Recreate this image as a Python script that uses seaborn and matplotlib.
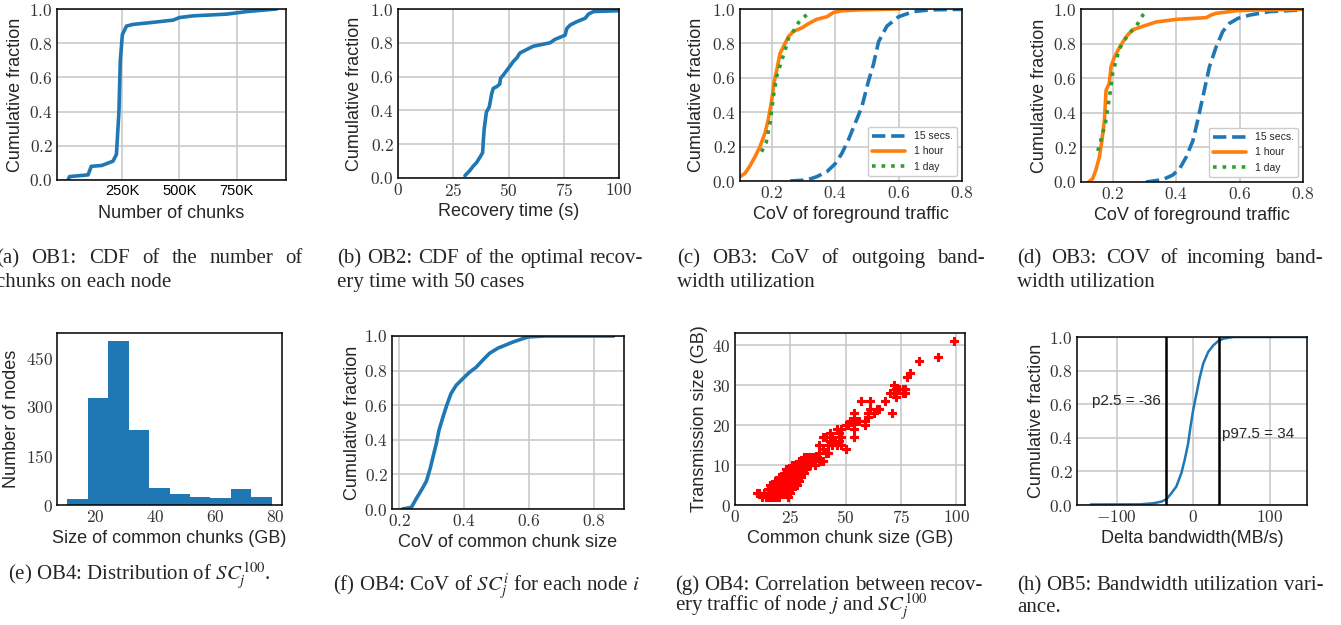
import matplotlib
matplotlib.use('Agg')
import matplotlib.pyplot as plt
import seaborn as sns
from matplotlib.ticker import FuncFormatter

# (a) CDF of the number of chunks on each node
a_x = [12e3, 19e3, 60e3, 100e3, 114e3, 160e3, 209e3, 224e3, 235e3, 241e3,
       250e3, 268e3, 297e3, 370e3, 472e3, 500e3, 560e3, 706e3, 794e3, 925e3]
a_y = [0.0, 0.02, 0.025, 0.03, 0.08, 0.085, 0.11, 0.15, 0.4, 0.7,
       0.85, 0.9, 0.91, 0.92, 0.935, 0.95, 0.96, 0.97, 0.985, 1.0]

# (b) CDF of the optimal recovery time
b_x = [30.3, 32.5, 34, 35.5, 37.4, 38.3, 38.6, 39, 40, 41.3, 42.4, 43.1, 44.6, 46, 46.4, 47.7,
       50, 52.2, 53.7, 55.2, 58.2, 61.3, 68.8, 71, 75.6, 76.4, 77.9, 80.9, 84.7, 86.2, 88.5, 100]
b_y = [0.014, 0.044, 0.07, 0.09, 0.13, 0.15, 0.22, 0.29, 0.39, 0.42, 0.50, 0.53, 0.54, 0.555, 0.59, 0.61,
       0.65, 0.69, 0.71, 0.74, 0.76, 0.78, 0.80, 0.82, 0.845, 0.885, 0.905, 0.925, 0.945, 0.97, 0.985, 0.99]

# (c) CoV of outgoing bandwidth
c_15s_x = [0.258, 0.311, 0.342, 0.374, 0.4, 0.421, 0.442, 0.463, 0.484, 0.505, 0.521, 0.537, 0.563, 0.6, 0.647, 0.7, 0.8]
c_15s_y = [0.0, 0.006, 0.025, 0.054, 0.1, 0.16, 0.24, 0.335, 0.43, 0.58, 0.68, 0.81, 0.9, 0.955, 0.985, 0.995, 0.998]
c_1h_x = [0.1, 0.116, 0.132, 0.147, 0.163, 0.179, 0.189, 0.2, 0.207, 0.216, 0.226,
          0.242, 0.253, 0.268, 0.295, 0.316, 0.342, 0.374, 0.395, 0.421, 0.479, 0.605]
c_1h_y = [0.025, 0.045, 0.09, 0.14, 0.2, 0.28, 0.355, 0.47, 0.57, 0.645, 0.74,
          0.80, 0.84, 0.87, 0.89, 0.915, 0.94, 0.955, 0.98, 0.99, 0.995, 1.0]
c_1d_x = [0.168, 0.182, 0.195, 0.205, 0.216, 0.228, 0.242, 0.253, 0.268, 0.284, 0.3, 0.316]
c_1d_y = [0.17, 0.22, 0.34, 0.49, 0.61, 0.68, 0.76, 0.83, 0.87, 0.92, 0.95, 0.975]

# (d) CoV of incoming bandwidth
d_15s_x = [0.305, 0.358, 0.389, 0.411, 0.432, 0.453, 0.468, 0.484, 0.505, 0.526, 0.547, 0.568, 0.595, 0.632, 0.695, 0.8]
d_15s_y = [0.0, 0.014, 0.04, 0.077, 0.145, 0.24, 0.357, 0.49, 0.666, 0.78, 0.87, 0.917, 0.946, 0.965, 0.985, 0.995]
d_1h_x = [0.124, 0.137, 0.147, 0.158, 0.166, 0.174, 0.179, 0.189, 0.195, 0.205, 0.216, 0.232,
          0.247, 0.263, 0.295, 0.337, 0.4, 0.495, 0.51, 0.526, 0.59, 0.653, 0.8]
d_1h_y = [0.0, 0.02, 0.07, 0.145, 0.24, 0.36, 0.53, 0.57, 0.67, 0.72, 0.76, 0.81,
          0.85, 0.88, 0.9, 0.925, 0.94, 0.95, 0.965, 0.975, 0.99, 0.994, 0.998]
d_1d_x = [0.153, 0.161, 0.168, 0.177, 0.184, 0.192, 0.2, 0.208, 0.221, 0.237, 0.253, 0.274, 0.295, 0.3]
d_1d_y = [0.18, 0.23, 0.28, 0.34, 0.42, 0.52, 0.63, 0.685, 0.77, 0.82, 0.86, 0.9, 0.965, 0.975]

# (e) histogram of common chunk size
e_edges = [10.6, 17.43, 24.26, 31.09, 37.92, 44.75, 51.58, 58.41, 65.24, 72.07, 78.9]
e_counts = [18, 328, 500, 228, 52, 35, 25, 22, 49, 25]

# (f) CoV of common chunk size
f_x = [0.21, 0.238, 0.253, 0.269, 0.284, 0.296, 0.307, 0.315, 0.323, 0.335, 0.347, 0.36, 0.376,
       0.397, 0.417, 0.438, 0.458, 0.479, 0.505, 0.525, 0.551, 0.582, 0.6, 0.653, 0.862]
f_y = [0.0, 0.01, 0.06, 0.11, 0.16, 0.235, 0.32, 0.38, 0.455, 0.53, 0.6, 0.667, 0.715,
       0.754, 0.79, 0.82, 0.86, 0.9, 0.93, 0.945, 0.965, 0.985, 0.995, 1.0, 1.0]

# (g) common chunk size vs transmission size
g_points = [
    (10, 3), (11, 3), (12, 2), (13, 3), (14, 2), (15, 2), (15, 3), (15, 4), (16, 2), (16, 3), (16, 4), (16, 5),
    (17, 2), (17, 3), (17, 4), (17, 5), (18, 2), (18, 3), (18, 4), (18, 5), (18, 6), (19, 2), (19, 3), (19, 4),
    (19, 5), (19, 6), (20, 2), (20, 3), (20, 4), (20, 5), (20, 6), (20, 7), (21, 3), (21, 4), (21, 5), (21, 6),
    (21, 7), (22, 3), (22, 4), (22, 5), (22, 6), (22, 7), (22, 8), (23, 3), (23, 4), (23, 5), (23, 6), (23, 7),
    (23, 8), (23, 9), (24, 2), (24, 4), (24, 5), (24, 6), (24, 7), (24, 8), (24, 9), (25, 3), (25, 5), (25, 6),
    (25, 7), (25, 8), (25, 9), (26, 4), (26, 5), (26, 6), (26, 7), (26, 8), (26, 9), (26, 10), (27, 5), (27, 6),
    (27, 7), (27, 8), (27, 9), (27, 10), (28, 5), (28, 6), (28, 7), (28, 8), (28, 9), (28, 10), (29, 6), (29, 7),
    (29, 8), (29, 9), (29, 10), (29, 11), (30, 7), (30, 8), (30, 9), (30, 10), (30, 11), (31, 8), (31, 9),
    (31, 10), (31, 11), (31, 12), (32, 9), (32, 10), (32, 11), (32, 12), (33, 10), (33, 11), (33, 12), (34, 10),
    (34, 11), (34, 12), (35, 11), (35, 12), (36, 10), (36, 12), (37, 12), (38, 11), (38, 13), (38, 15), (39, 11),
    (40, 11), (40, 14), (40, 17), (41, 13), (41, 17), (42, 13), (42, 15), (43, 16), (43, 18), (44, 17), (44, 15),
    (45, 16), (46, 15), (46, 19), (47, 16), (47, 18), (48, 15), (48, 19), (48, 17), (50, 14), (50, 20), (51, 20),
    (52, 21), (53, 21), (54, 17), (54, 19), (54, 21), (54, 23), (55, 21), (56, 21), (57, 26), (59, 20), (59, 21),
    (60, 22), (60, 23), (61, 24), (61, 26), (63, 23), (64, 24), (65, 24), (68, 26), (70, 28), (71, 23), (72, 30),
    (72, 28), (73, 29), (73, 27), (74, 29), (76, 29), (76, 28), (77, 28), (77, 29), (78, 32), (79, 33), (83, 36),
    (92, 37), (99, 41),
]
g_x = [p[0] for p in g_points]
g_y = [p[1] for p in g_points]

# (h) delta bandwidth CDF with percentiles
h_x = [-134, -70, -52.6, -41.7, -35, -28.5, -22, -15.4, -11, -6.6, -3.5, 0,
       4.4, 8.8, 13.2, 19.7, 26.3, 32.9, 39.5, 52.6, 147]
h_y = [0.003, 0.004, 0.01, 0.02, 0.034, 0.07, 0.11, 0.19, 0.27, 0.366, 0.465, 0.564,
       0.663, 0.762, 0.842, 0.911, 0.95, 0.976, 0.99, 1.0, 1.0]
h_pct = [-36, 34]
h_pct_labels = ['p2.5 = -36', 'p97.5 = 34']

BLUE, ORANGE, GREEN = '#1f77b4', '#ff7f0e', '#2ca02c'

sns.set_theme(style='whitegrid', rc={
    'axes.edgecolor': 'black', 'axes.linewidth': 1.1,
    'grid.color': '#c6c6c6', 'grid.linewidth': 1.1,
    'xtick.major.size': 0, 'ytick.major.size': 0,
    'xtick.major.pad': 3, 'ytick.major.pad': 3,
    'xtick.labelsize': 12.5, 'ytick.labelsize': 12.5,
    'xtick.color': '#333333', 'ytick.color': '#333333',
    'axes.labelsize': 13, 'axes.labelpad': 3,
})
plt.rcParams['font.family'] = ['Liberation Sans', 'DejaVu Sans']
plt.rcParams['mathtext.fontset'] = 'cm'

W, H = 1341, 625
fig = plt.figure(figsize=(W / 100, H / 100), dpi=100)


def box(l, t, r, b):
    return fig.add_axes([l / W, 1 - b / H, (r - l) / W, (b - t) / H])


def cm_ticks(ax, xfmt, yfmt):
    if xfmt:
        ax.xaxis.set_major_formatter(FuncFormatter(lambda v, p: '$' + format(v, xfmt) + '$'))
    if yfmt:
        ax.yaxis.set_major_formatter(FuncFormatter(lambda v, p: '$' + format(v, yfmt) + '$'))


def labels(ax, xlabel, ylabel, yoff, xoff=25):
    # label offsets in pixels from the axes edges
    bb = ax.get_position()
    ax.set_xlabel(xlabel)
    ax.set_ylabel(ylabel)
    ax.yaxis.set_label_coords(-yoff / (bb.width * W), 0.5)
    ax.xaxis.set_label_coords(0.5, -xoff / (bb.height * H))


frac_ticks = [0, 0.2, 0.4, 0.6, 0.8, 1.0]

# (a)
ax = box(57, 9, 286, 180)
sns.lineplot(x=a_x, y=a_y, ax=ax, color=BLUE, lw=2.6, sort=False, estimator=None)
ax.set_xlim(-36e3, 966e3)
ax.set_ylim(0, 1)
ax.set_yticks(frac_ticks)
ax.set_xticks([250e3, 500e3, 750e3], ['250K', '500K', '750K'], fontsize=10.5, color='black')
cm_ticks(ax, None, '.1f')
labels(ax, 'Number of chunks', 'Cumulative fraction', 33)

# (b)
ax = box(398, 9, 619, 178)
sns.lineplot(x=b_x, y=b_y, ax=ax, color=BLUE, lw=2.6, sort=False, estimator=None)
ax.set_xlim(0, 100)
ax.set_ylim(0, 1)
ax.set_xticks([0, 25, 50, 75, 100])
ax.set_yticks(frac_ticks)
cm_ticks(ax, 'g', '.1f')
labels(ax, 'Recovery time (s)', 'Cumulative fraction', 35)

# (c) and (d)
for (l, r, b, off), s15, h1, d1 in [
        ((740, 962, 181, 35), (c_15s_x, c_15s_y), (c_1h_x, c_1h_y), (c_1d_x, c_1d_y)),
        ((1081, 1303, 182, 33), (d_15s_x, d_15s_y), (d_1h_x, d_1h_y), (d_1d_x, d_1d_y))]:
    ax = box(l, 9, r, b)
    sns.lineplot(x=s15[0], y=s15[1], ax=ax, color=BLUE, lw=2.6, linestyle='--',
                 label='15 secs.', sort=False, estimator=None)
    sns.lineplot(x=h1[0], y=h1[1], ax=ax, color=ORANGE, lw=2.6, linestyle='-',
                 label='1 hour', sort=False, estimator=None)
    sns.lineplot(x=d1[0], y=d1[1], ax=ax, color=GREEN, lw=2.6, linestyle=':',
                 label='1 day', sort=False, estimator=None)
    ax.set_xlim(0.1, 0.8)
    ax.set_ylim(0, 1)
    ax.set_xticks([0.2, 0.4, 0.6, 0.8])
    ax.set_yticks(frac_ticks)
    cm_ticks(ax, '.1f', '.1f')
    labels(ax, 'CoV of foreground traffic', 'Cumulative fraction', off)
    ax.legend(loc='lower right', fontsize=7.5, handlelength=3.2, frameon=True,
              fancybox=True, edgecolor='#cccccc', framealpha=1)

# (e)
ax = box(57, 333, 282, 505)
e_centers = [(e_edges[i] + e_edges[i + 1]) / 2 for i in range(len(e_counts))]
sns.histplot(x=e_centers, weights=e_counts, bins=e_edges, ax=ax, color=BLUE,
             alpha=1, linewidth=0)
ax.grid(False)
ax.set_xticks([20, 40, 60, 80])
ax.set_yticks([0, 150, 300, 450])
cm_ticks(ax, 'g', 'g')
labels(ax, 'Size of common chunks (GB)', 'Number of nodes', 37)

# (f)
ax = box(392, 336, 624, 509)
sns.lineplot(x=f_x, y=f_y, ax=ax, color=BLUE, lw=2.6, sort=False, estimator=None)
ax.set_xlim(0.178, 0.894)
ax.set_ylim(0, 1)
ax.set_xticks([0.2, 0.4, 0.6, 0.8])
ax.set_yticks(frac_ticks)
cm_ticks(ax, '.1f', '.1f')
labels(ax, 'CoV of common chunk size', 'Cumulative fraction', 31)

# (g)
ax = box(735, 333, 965, 505)
sns.scatterplot(x=g_x, y=g_y, ax=ax, color='red', marker='P', s=26,
                linewidth=0.8, edgecolor='red')
ax.set_xlim(0, 104)
ax.set_ylim(0, 43)
ax.set_xticks([0, 25, 50, 75, 100])
ax.set_yticks([0, 10, 20, 30, 40])
cm_ticks(ax, 'g', 'g')
labels(ax, 'Common chunk size (GB)', 'Transmission size (GB)', 27)

# (h)
ax = box(1077, 337, 1307, 505)
sns.lineplot(x=h_x, y=h_y, ax=ax, color=BLUE, lw=1.8, sort=False, estimator=None)
for v in h_pct:
    ax.axvline(v, color='black', lw=1.8)
ax.text(-132, 0.62, h_pct_labels[0], fontsize=11, va='center', ha='left')
ax.text(38, 0.42, h_pct_labels[1], fontsize=11, va='center', ha='left')
ax.set_xlim(-152, 149)
ax.set_ylim(0, 1)
ax.set_xticks([-100, 0, 100])
ax.set_yticks(frac_ticks)
cm_ticks(ax, 'g', '.1f')
labels(ax, 'Delta bandwidth(MB/s)', 'Cumulative fraction', 32)

# captions
cap_kw = dict(fontsize=15, family='Liberation Serif', math_fontfamily='stix', va='baseline')
renderer = fig.canvas.get_renderer()


def caption(x0, y, line, x1=None):
    if x1 is None:
        fig.text(x0 / W, 1 - y / H, line, **cap_kw)
        return
    words = line.split(' ')
    texts = [fig.text(0, 1 - y / H, w, **cap_kw) for w in words]
    widths = [t.get_window_extent(renderer).width for t in texts]
    gap = (x1 - x0 - sum(widths)) / (len(words) - 1)
    x = x0
    for t, w in zip(texts, widths):
        t.set_x(x / W)
        x += w + gap


caption(-4, 263, '(a) OB1: CDF of the number of', 303)
caption(-4, 287, 'chunks on each node')
caption(337, 263, '(b) OB2: CDF of the optimal recov-', 643)
caption(337, 287, 'ery time with 50 cases')
caption(677, 263, '(c) OB3: CoV of outgoing band-', 985)
caption(677, 287, 'width utilization')
caption(1017, 263, '(d) OB3: COV of incoming band-', 1323)
caption(1017, 287, 'width utilization')
caption(8, 581, r'(e) OB4: Distribution of $SC_j^{100}$.')
caption(333, 591, r'(f) OB4: CoV of $SC_j^i$ for each node $i$')
caption(675, 590, '(g) OB4: Correlation between recov-', 983)
caption(675, 612, r'ery traffic of node $j$ and $SC_j^{100}$')
caption(1017, 590, '(h) OB5: Bandwidth utilization vari-', 1323)
caption(1017, 612, 'ance.')

fig.savefig('out.png', dpi=100)
